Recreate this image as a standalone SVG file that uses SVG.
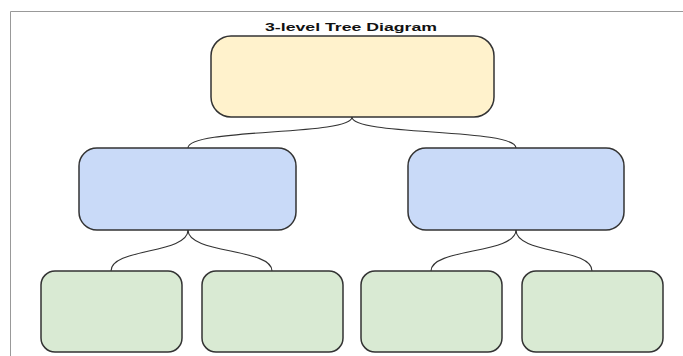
<svg xmlns="http://www.w3.org/2000/svg" width="683" height="356" viewBox="0 0 683 356">
<style>
.node{stroke:#333;stroke-width:1.5}
.l1{fill:#fff2cc}
.l2{fill:#c9daf8}
.l3{fill:#d9ead3}
.conn{fill:none;stroke:#333;stroke-width:1.1}
.frame{fill:none;stroke:#999;stroke-width:1}
.title{font-family:"Liberation Sans",Arial,sans-serif;font-size:10px;font-weight:bold;fill:#111}
</style>
<rect width="683" height="356" fill="#fff"/>
<path class="frame" d="M10.5 356 V11.5 H683"/>
<text class="title" x="265" y="30.5" textLength="172" lengthAdjust="spacingAndGlyphs">3-level Tree Diagram</text>
<g id="connectors">
<path class="conn" d="M352 117 C352 136,188 128,188 148"/>
<path class="conn" d="M352 117 C352 136,516 128,516 148"/>
<path class="conn" d="M188 230 C188 254,111 248,111 271"/>
<path class="conn" d="M188 230 C188 254,272 248,272 271"/>
<path class="conn" d="M516 230 C516 254,431 248,431 271"/>
<path class="conn" d="M516 230 C516 254,592 248,592 271"/>
</g>
<g id="root"><rect class="node l1" x="211" y="36" width="283" height="81" rx="20" ry="20"/></g>
<g id="mid-left"><rect class="node l2" x="79" y="148" width="217" height="82" rx="18" ry="18"/></g>
<g id="mid-right"><rect class="node l2" x="408" y="148" width="216" height="82" rx="18" ry="18"/></g>
<g id="leaf-1"><rect class="node l3" x="41" y="271" width="141" height="81" rx="14" ry="14"/></g>
<g id="leaf-2"><rect class="node l3" x="202" y="271" width="141" height="81" rx="14" ry="14"/></g>
<g id="leaf-3"><rect class="node l3" x="361" y="271" width="141" height="81" rx="14" ry="14"/></g>
<g id="leaf-4"><rect class="node l3" x="522" y="271" width="141" height="81" rx="14" ry="14"/></g>
</svg>
